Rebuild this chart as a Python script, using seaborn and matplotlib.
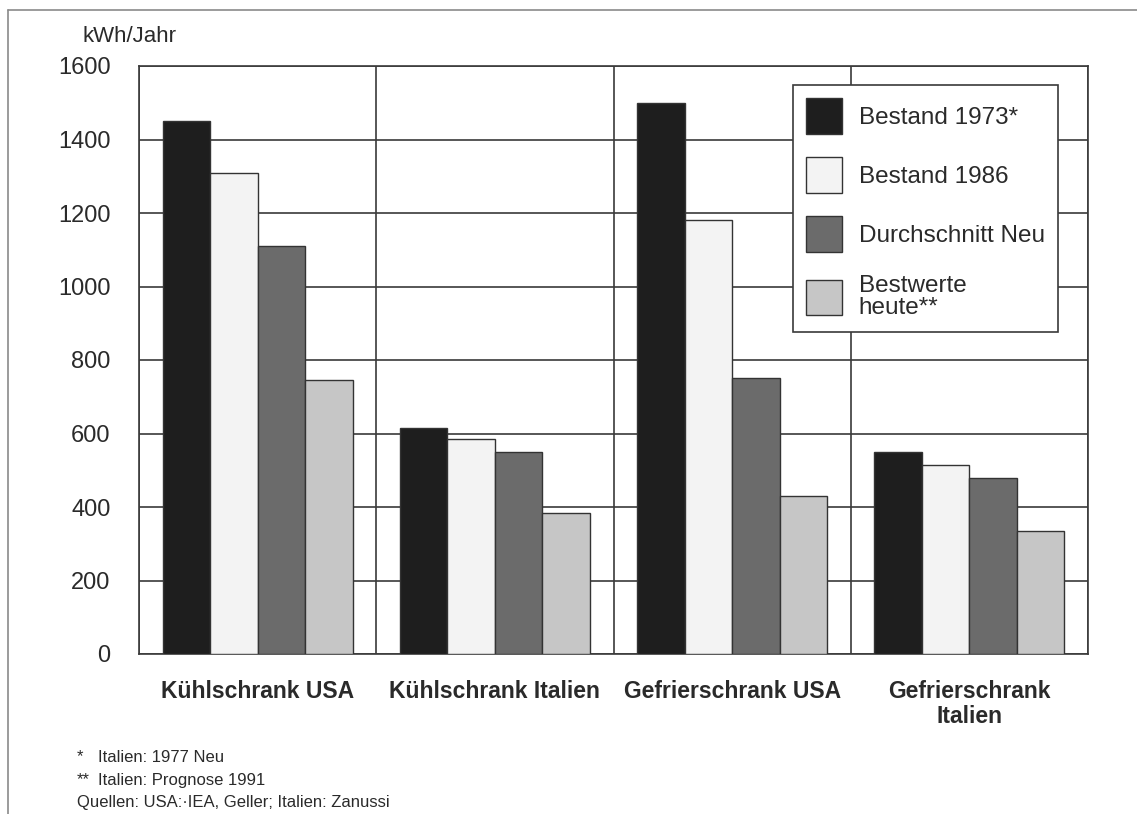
import matplotlib
matplotlib.use("Agg")
import matplotlib.pyplot as plt
from matplotlib.lines import Line2D
import seaborn as sns
import pandas as pd

# Jährlicher Stromverbrauch von Kühl- und Gefriergeräten
categories = ["Kühlschrank USA", "Kühlschrank Italien", "Gefrierschrank USA", "Gefrierschrank\nItalien"]
series = ["Bestand 1973*", "Bestand 1986", "Durchschnitt Neu", "Bestwerte\nheute**"]
bestand_1973 = [1450, 615, 1500, 550]
bestand_1986 = [1310, 585, 1180, 515]
durchschnitt_neu = [1110, 550, 750, 480]
bestwerte_heute = [745, 385, 430, 335]
yticks = [0, 200, 400, 600, 800, 1000, 1200, 1400, 1600]

colors = ["#1e1e1e", "#f3f3f3", "#6b6b6b", "#c6c6c6"]
ink = "#2a2a2a"

rows = []
for name, vals in zip(series, [bestand_1973, bestand_1986, durchschnitt_neu, bestwerte_heute]):
    for cat, v in zip(categories, vals):
        rows.append({"Gerät": cat, "Serie": name, "kWh": v})
df = pd.DataFrame(rows)

sns.set_style("white")
plt.rcParams["font.family"] = ["Liberation Sans", "DejaVu Sans"]
plt.rcParams["text.color"] = ink

W, H = 1137, 814
fig = plt.figure(figsize=(W / 100, H / 100), dpi=100)
ax = fig.add_axes([139 / W, 1 - 654 / H, 949 / W, 588 / H])

sns.barplot(data=df, x="Gerät", y="kWh", hue="Serie", order=categories,
            hue_order=series, palette=colors, width=0.8, saturation=1,
            edgecolor="#333333", linewidth=1.0, errorbar=None, ax=ax, zorder=3)

ax.set_xlim(-0.5, 3.5)
ax.set_ylim(0, 1600)
ax.set_yticks(yticks)
ax.set_yticklabels([str(t) for t in yticks])
ax.set_xlabel("")
ax.set_ylabel("")

# horizontal grid and vertical group separators
ax.yaxis.grid(True, color="#3a3a3a", linewidth=1.2, zorder=0)
ax.set_xticks([-0.5, 0.5, 1.5, 2.5, 3.5], minor=True)
ax.xaxis.grid(True, which="minor", color="#3a3a3a", linewidth=1.2, zorder=0)
ax.set_axisbelow(True)
for s in ax.spines.values():
    s.set_color("#3a3a3a")
    s.set_linewidth(1.2)

ax.tick_params(axis="y", direction="out", length=11.5, width=1.2, color="#3a3a3a",
               pad=9, labelsize=17, labelcolor=ink)
ax.tick_params(axis="x", which="major", length=0, pad=19, labelsize=16.5, labelcolor=ink)
ax.tick_params(axis="x", which="minor", direction="out", length=9.5, width=1.2,
               color="#3a3a3a")
for lab in ax.get_xticklabels():
    lab.set_fontweight("bold")
    lab.set_linespacing(1.1)

handles, labels = ax.get_legend_handles_labels()
leg = ax.legend(handles, labels, loc="upper left",
                bbox_to_anchor=((793 - 139) / 949, 1 - (85 - 66) / 588),
                borderaxespad=0, fontsize=17.5, frameon=True, fancybox=False, framealpha=1,
                edgecolor="#3a3a3a", handlelength=1.45, handleheight=1.85, handletextpad=0.7,
                labelspacing=0.98, borderpad=0.55, title=None)
leg.get_frame().set_linewidth(1.2)
for t in leg.get_texts():
    t.set_linespacing(0.95)

fig.text(83 / W, 1 - 37 / H, "kWh/Jahr", fontsize=16, ha="left", va="center", color=ink)

fig.text(77 / W, 1 - 757 / H, "*", fontsize=12, ha="left", va="center", color=ink)
fig.text(98 / W, 1 - 757 / H, "Italien: 1977 Neu", fontsize=12, ha="left", va="center", color=ink)
fig.text(77 / W, 1 - 780 / H, "**", fontsize=12, ha="left", va="center", color=ink)
fig.text(98 / W, 1 - 780 / H, "Italien: Prognose 1991", fontsize=12, ha="left", va="center", color=ink)
fig.text(77 / W, 1 - 802 / H, "Quellen: USA:·IEA, Geller; Italien: Zanussi", fontsize=12,
         ha="left", va="center", color=ink)

# page frame
fig.add_artist(Line2D([8 / W, 1.0], [1 - 10 / H, 1 - 10 / H], transform=fig.transFigure,
                      color="#8a8a8a", linewidth=1.2))
fig.add_artist(Line2D([8 / W, 8 / W], [1 - 10 / H, 0.0], transform=fig.transFigure,
                      color="#8a8a8a", linewidth=1.2))

fig.savefig("out.png", dpi=100, facecolor="white")
